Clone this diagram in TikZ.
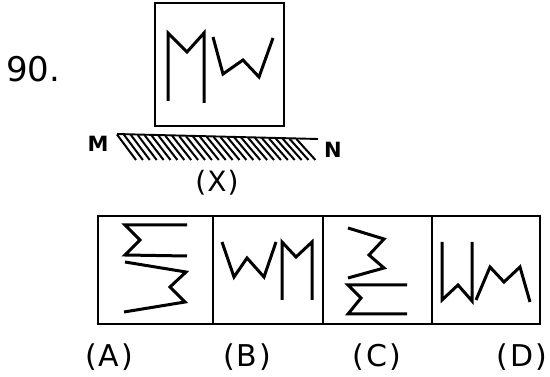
\documentclass[tikz,border=0pt]{standalone}
\usepackage{fontspec}
\newfontfamily\labfont{DejaVu Sans}
\begin{document}
\begin{tikzpicture}[x=1pt,y=-1pt,
  glyph/.style={line width=3pt,line join=miter,line cap=butt},
  frame/.style={line width=1.9pt},
  hatch/.style={line width=2pt},
  lab/.style={font=\labfont\fontsize{30}{32}\selectfont,inner sep=0pt}]
\useasboundingbox (0,0) rectangle (550,377);
% question number
\node[font=\labfont\fontsize{34}{38}\selectfont,inner sep=0pt,anchor=west] (num) at (6,69) {90.};
% top box
\draw[frame] (155,3) rectangle (284,126);
\draw[glyph] (168,101) -- (168,33) -- (187,52) -- (204,33) -- (204,103);
\draw[glyph] (213,37) -- (223,74) -- (243,60) -- (259,77) -- (273,38);
% mirror
\coordinate (m1) at (117,134);
\coordinate (m2) at (318,139);
\draw[line width=1.9pt] (m1) -- (m2);
\foreach \i in {0,...,26} {
  \pgfmathsetmacro{\xa}{117+6.9*\i}
  \pgfmathsetmacro{\ya}{134.5+(\xa-117)*5/201}
  \draw[hatch] (\xa,\ya) -- (\xa+19,160);
}
\node[font=\labfont\bfseries\fontsize{21}{23}\selectfont,inner sep=0pt] (lM) at (98,144) {M};
\node[font=\labfont\bfseries\fontsize{21}{23}\selectfont,inner sep=0pt] (lN) at (333,150) {N};
\node[font=\labfont\fontsize{28}{30}\selectfont,inner sep=0pt] (lX) at (217,183) {(\hspace{1pt}X\hspace{1pt})};
% option boxes
\draw[frame] (98,216) rectangle (540,324);
\draw[frame] (213,216) -- (213,324);
\draw[frame] (323,216) -- (323,324);
\draw[frame] (432,216) -- (432,324);
% A
\draw[glyph] (187,225) -- (125,225) -- (140,240) -- (125,255) -- (187,256);
\draw[glyph] (125,262) -- (186,272) -- (170,287) -- (185,302) -- (124,312);
% B
\draw[glyph] (222,242) -- (234,277) -- (247,258) -- (264,277) -- (276,242);
\draw[glyph] (282,300) -- (282,242) -- (296,257) -- (312,242) -- (312,300);
% C
\draw[glyph] (348,228) -- (384,239) -- (369,255) -- (384,268) -- (348,278);
\draw[glyph] (407,285) -- (348,285) -- (361,298) -- (348,314) -- (407,314);
% D
\draw[glyph] (442,242) -- (442,300) -- (458,285) -- (472,301) -- (472,242);
\draw[glyph] (476,300) -- (490,267) -- (504,282) -- (520,267) -- (530,302);
% labels
\node[lab] (la) at (109,357) {(\hspace{2pt}A\hspace{2pt})};
\node[lab] (lb) at (247,357) {(\hspace{2pt}B\hspace{2pt})};
\node[lab] (lc) at (377,357) {(\hspace{2pt}C\hspace{2pt})};
\node[lab] (ld) at (522,357) {(\hspace{2pt}D\hspace{2pt})};
\end{tikzpicture}
\end{document}
